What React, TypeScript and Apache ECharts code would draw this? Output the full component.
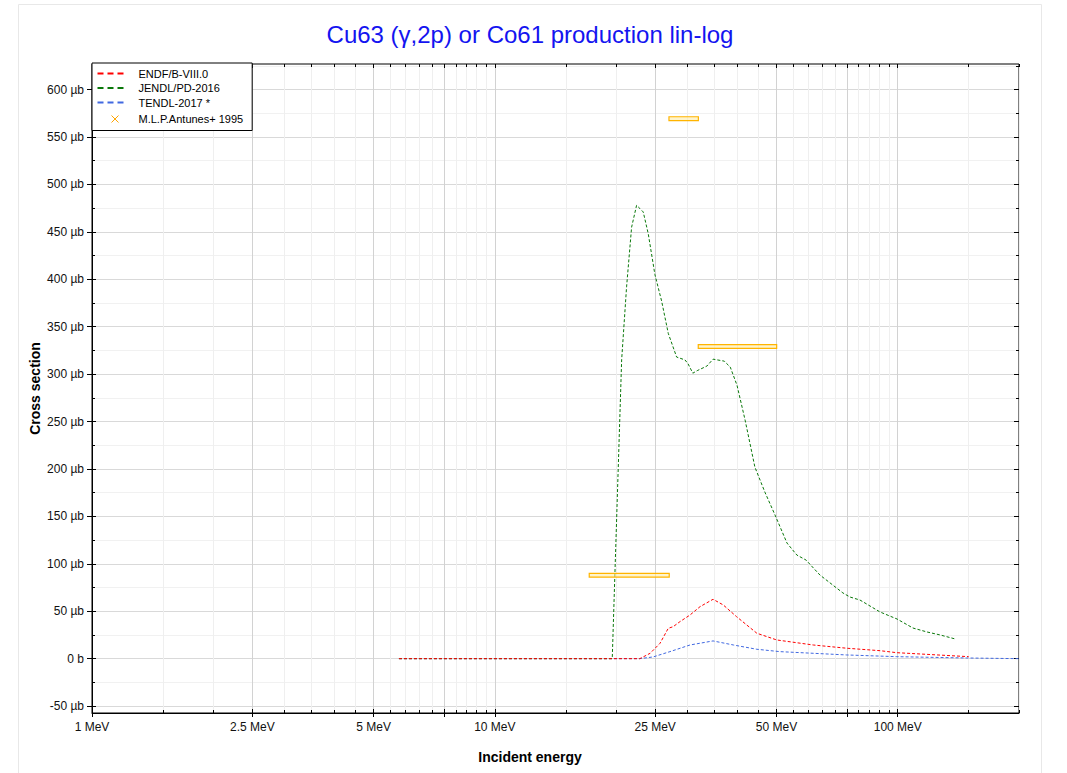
import React, { useEffect, useRef } from "react";
import * as echarts from "echarts";

// ---- Data ----
const E_ENDF = [5.78, 22.9, 24.3, 25.7, 26.94, 27.7, 28.8, 30.5, 32.3, 34.8, 36.9, 39.8, 44.7, 50.1, 61.7, 74.7, 90.4, 99.4, 150];
const XS_ENDF = [0, 0, 5.7, 16.2, 32, 33.7, 39, 46, 54.8, 62.6, 56.6, 44.3, 26.8, 19.7, 14.4, 11, 8.4, 6.3, 2.1];

const E_JENDL = [5.78, 19.56, 20.1, 20.64, 21.23, 21.85, 22.48, 22.91, 23.35, 24.03, 24.96, 25.94, 26.94, 28.26, 29.64, 30.16, 31.0, 31.9, 33.6, 34.8, 37.1, 38.4, 39.9, 41.8, 44.2, 46.8, 49.6, 53.1, 56.2, 59.2, 64.1, 73.1, 76.1, 80.6, 90.4, 99.6, 109.1, 118.3, 127.4, 138.8];
const XS_JENDL = [0, 0, 160, 315, 392, 455, 478, 474.6, 471, 448, 405, 377, 343, 318, 315, 311, 301, 304, 308.5, 315.8, 313.7, 307.4, 288.4, 251.5, 202, 175.6, 151.4, 121.9, 109.2, 104, 88.2, 69.3, 65, 61.8, 49.2, 41.8, 32.3, 28.1, 25, 20.8];

const E_TENDL = [5.78, 22.9, 24.7, 27.2, 30.5, 34.8, 39.1, 44.7, 51.0, 74.7, 99.4, 148.4, 200];
const XS_TENDL = [0, 0, 1.8, 7.4, 14.4, 18.7, 14.4, 9.9, 7.4, 3.9, 2.1, 0.7, 0];

const EXP_E_LOW = [17.15, 27.05, 31.98];
const EXP_E_HIGH = [27.09, 32.0, 50.06];
const EXP_XS = [87.9, 569.4, 329.2];
const EXP_ERR = [2, 2, 2];

// ---- Axis ticks ----
const X_MIN = 1;
const X_MAX = 200;
const X_MAJOR = [1, 2.5, 5, 7.5, 10, 25, 50, 75, 100];
const X_LABELS = [1, 2.5, 5, 10, 25, 50, 100];
const X_MINOR = [1.5, 2, 3, 3.5, 4, 4.5, 5.5, 6, 6.5, 7, 8, 8.5, 9, 9.5, 15, 20, 30, 35, 40, 45, 55, 60, 65, 70, 80, 85, 90, 95, 150, 200];

const Y_MIN = -57.3;
const Y_MAX = 627;
const Y_MAJOR = [-50, 0, 50, 100, 150, 200, 250, 300, 350, 400, 450, 500, 550, 600];
const Y_MINOR = [-25, 25, 75, 125, 175, 225, 275, 325, 375, 425, 475, 525, 575, 625];

const SERIES_NAMES = ["ENDF/B-VIII.0", "JENDL/PD-2016", "TENDL-2017 *", "M.L.P.Antunes+ 1995"];
const COLORS = ["#ff0000", "#0a780a", "#4169e1", "#ffa500"];

const FONT = "'Liberation Sans', Arial, sans-serif";
const lg = (v: number) => Math.log10(v);

export default function App() {
  const ref = useRef<HTMLDivElement>(null);
  useEffect(() => {
    if (!ref.current) return;
    const chart = echarts.init(ref.current, null, { renderer: "svg" });

    const xBase = { type: "value", min: lg(X_MIN), max: lg(X_MAX), gridIndex: 0 };
    const yBase = { type: "value", min: Y_MIN, max: Y_MAX, gridIndex: 0 };
    const noLine = { show: false, onZero: false };
    const noLabel = { show: false };
    const noSplit = { show: false };

    const xAxes = [
      {
        ...xBase,
        position: "bottom",
        axisLine: { show: true, onZero: false, lineStyle: { color: "#000", width: 1 } },
        axisTick: { show: true, inside: false, length: 4, customValues: X_MAJOR.map(lg), lineStyle: { color: "#000" } },
        axisLabel: {
          show: true,
          customValues: X_LABELS.map(lg),
          margin: 8,
          color: "#111",
          fontSize: 12,
          fontFamily: FONT,
          formatter: (v: number) => `${Math.round(Math.pow(10, v) * 100) / 100} MeV`,
        },
        splitLine: { show: true, lineStyle: { color: "#d2d2d2", width: 1 } },
      },
      {
        ...xBase,
        position: "bottom",
        axisLine: noLine,
        axisTick: { show: true, inside: true, length: 3, customValues: X_MINOR.map(lg), lineStyle: { color: "#000" } },
        axisLabel: noLabel,
        splitLine: { show: true, lineStyle: { color: "#efefef", width: 1 } },
      },
      {
        ...xBase,
        position: "bottom",
        axisLine: noLine,
        axisTick: { show: true, inside: true, length: 4, customValues: X_MAJOR.map(lg), lineStyle: { color: "#000" } },
        axisLabel: noLabel,
        splitLine: noSplit,
      },
      {
        ...xBase,
        position: "top",
        axisLine: noLine,
        axisTick: { show: true, inside: true, length: 4, customValues: X_MAJOR.map(lg), lineStyle: { color: "#000" } },
        axisLabel: noLabel,
        splitLine: noSplit,
      },
      {
        ...xBase,
        position: "top",
        axisLine: noLine,
        axisTick: { show: true, inside: true, length: 3, customValues: X_MINOR.map(lg), lineStyle: { color: "#000" } },
        axisLabel: noLabel,
        splitLine: noSplit,
      },
    ];

    const yAxes = [
      {
        ...yBase,
        position: "left",
        name: "Cross section",
        nameLocation: "middle",
        nameGap: 50,
        nameMoveOverlap: false,
        nameTextStyle: { fontSize: 14, fontWeight: "bold", color: "#000", fontFamily: FONT },
        axisLine: { show: true, onZero: false, lineStyle: { color: "#000", width: 1 } },
        axisTick: { show: true, inside: false, length: 5, customValues: Y_MAJOR, lineStyle: { color: "#000" } },
        axisLabel: {
          show: true,
          customValues: Y_MAJOR,
          margin: 8,
          color: "#111",
          fontSize: 12,
          fontFamily: FONT,
          formatter: (v: number) => (v === 0 ? "0 b" : `${v} µb`),
        },
        splitLine: { show: true, lineStyle: { color: "#d9d9d9", width: 1 } },
      },
      {
        ...yBase,
        position: "left",
        axisLine: noLine,
        axisTick: { show: true, inside: true, length: 3, customValues: Y_MINOR, lineStyle: { color: "#000" } },
        axisLabel: noLabel,
        splitLine: { show: true, lineStyle: { color: "#f1f1f1", width: 1 } },
      },
      {
        ...yBase,
        position: "left",
        axisLine: noLine,
        axisTick: { show: true, inside: true, length: 4, customValues: Y_MAJOR, lineStyle: { color: "#000" } },
        axisLabel: noLabel,
        splitLine: noSplit,
      },
      {
        ...yBase,
        position: "right",
        axisLine: noLine,
        axisTick: { show: true, inside: true, length: 5, customValues: Y_MAJOR, lineStyle: { color: "#000" } },
        axisLabel: noLabel,
        splitLine: noSplit,
      },
      {
        ...yBase,
        position: "right",
        axisLine: noLine,
        axisTick: { show: true, inside: true, length: 3, customValues: Y_MINOR, lineStyle: { color: "#000" } },
        axisLabel: noLabel,
        splitLine: noSplit,
      },
    ];

    const lineSeries = (name: string, E: number[], XS: number[], color: string, z: number) => ({
      name,
      type: "line",
      xAxisIndex: 0,
      yAxisIndex: 0,
      symbol: "none",
      showSymbol: false,
      smooth: false,
      z,
      lineStyle: { color, width: 1, type: [3, 2] },
      itemStyle: { color },
      data: E.map((e, i) => [lg(e), XS[i]]),
    });

    const expData = EXP_XS.map((y, i) => [lg(EXP_E_LOW[i]), lg(EXP_E_HIGH[i]), y, EXP_ERR[i]]);

    const option: any = {
      animation: false,
      backgroundColor: "#fff",
      textStyle: { fontFamily: FONT },
      title: {
        text: "Cu63 (γ,2p) or Co61 production lin-log",
        left: 525,
        textAlign: "center",
        top: 17,
        textStyle: { color: "#1414f0", fontSize: 24, fontWeight: "normal", fontFamily: FONT },
      },
      grid: {
        left: 92,
        right: 48,
        top: 64,
        bottom: 60,
        show: true,
        borderColor: "#000",
        borderWidth: 1,
        backgroundColor: "transparent",
      },
      legend: {
        orient: "vertical",
        left: 92,
        top: 63,
        padding: [5, 9, 4, 3],
        itemGap: 3.5,
        itemWidth: 28,
        itemHeight: 10,
        backgroundColor: "#fff",
        borderColor: "#000",
        borderWidth: 1,
        borderRadius: 0,
        textStyle: { fontSize: 11, color: "#000", fontFamily: FONT, padding: [0, 0, 0, 8], lineHeight: 11 },
        lineStyle: { width: 2, type: [6, 4] },
        data: [
          { name: SERIES_NAMES[0], itemStyle: { opacity: 0 } },
          { name: SERIES_NAMES[1], itemStyle: { opacity: 0 } },
          { name: SERIES_NAMES[2], itemStyle: { opacity: 0 } },
          {
            name: SERIES_NAMES[3],
            icon: "path://M0,0M28,10M14,1.5L21,8.5M21,1.5L14,8.5",
            itemStyle: { color: "none", borderColor: COLORS[3], borderWidth: 1 },
          },
        ],
      },
      xAxis: xAxes,
      yAxis: yAxes,
      graphic: [
        {
          type: "rect",
          shape: { x: 18.5, y: 4.5, width: 1023, height: 780 },
          style: { fill: "none", stroke: "#e8e8e8", lineWidth: 1 },
          silent: true,
          z: -10,
        },
        {
          type: "text",
          x: 530,
          y: 757,
          style: {
            text: "Incident energy",
            fontSize: 14,
            fontWeight: "bold",
            fontFamily: FONT,
            fill: "#000",
            align: "center",
            verticalAlign: "middle",
          },
        },
      ],
      series: [
        lineSeries(SERIES_NAMES[0], E_ENDF, XS_ENDF, COLORS[0], 5),
        lineSeries(SERIES_NAMES[1], E_JENDL, XS_JENDL, COLORS[1], 4),
        lineSeries(SERIES_NAMES[2], E_TENDL, XS_TENDL, COLORS[2], 3),
        {
          name: SERIES_NAMES[3],
          type: "custom",
          xAxisIndex: 0,
          yAxisIndex: 0,
          z: 6,
          itemStyle: { color: COLORS[3] },
          encode: { x: [0, 1], y: [2] },
          data: expData,
          renderItem: (params: any, api: any) => {
            const p1 = api.coord([api.value(0), api.value(2) + api.value(3)]);
            const p2 = api.coord([api.value(1), api.value(2) - api.value(3)]);
            return {
              type: "rect",
              shape: { x: p1[0], y: p1[1], width: p2[0] - p1[0], height: p2[1] - p1[1] },
              style: { fill: "rgba(255,235,160,0.55)", stroke: "#ffb400", lineWidth: 1.2 },
            };
          },
        },
      ],
    };

    chart.setOption(option);
    return () => chart.dispose();
  }, []);

  return (
    <div
      ref={ref}
      style={{ position: "absolute", left: 0, top: 0, width: 1067, height: 773 }}
    />
  );
}
